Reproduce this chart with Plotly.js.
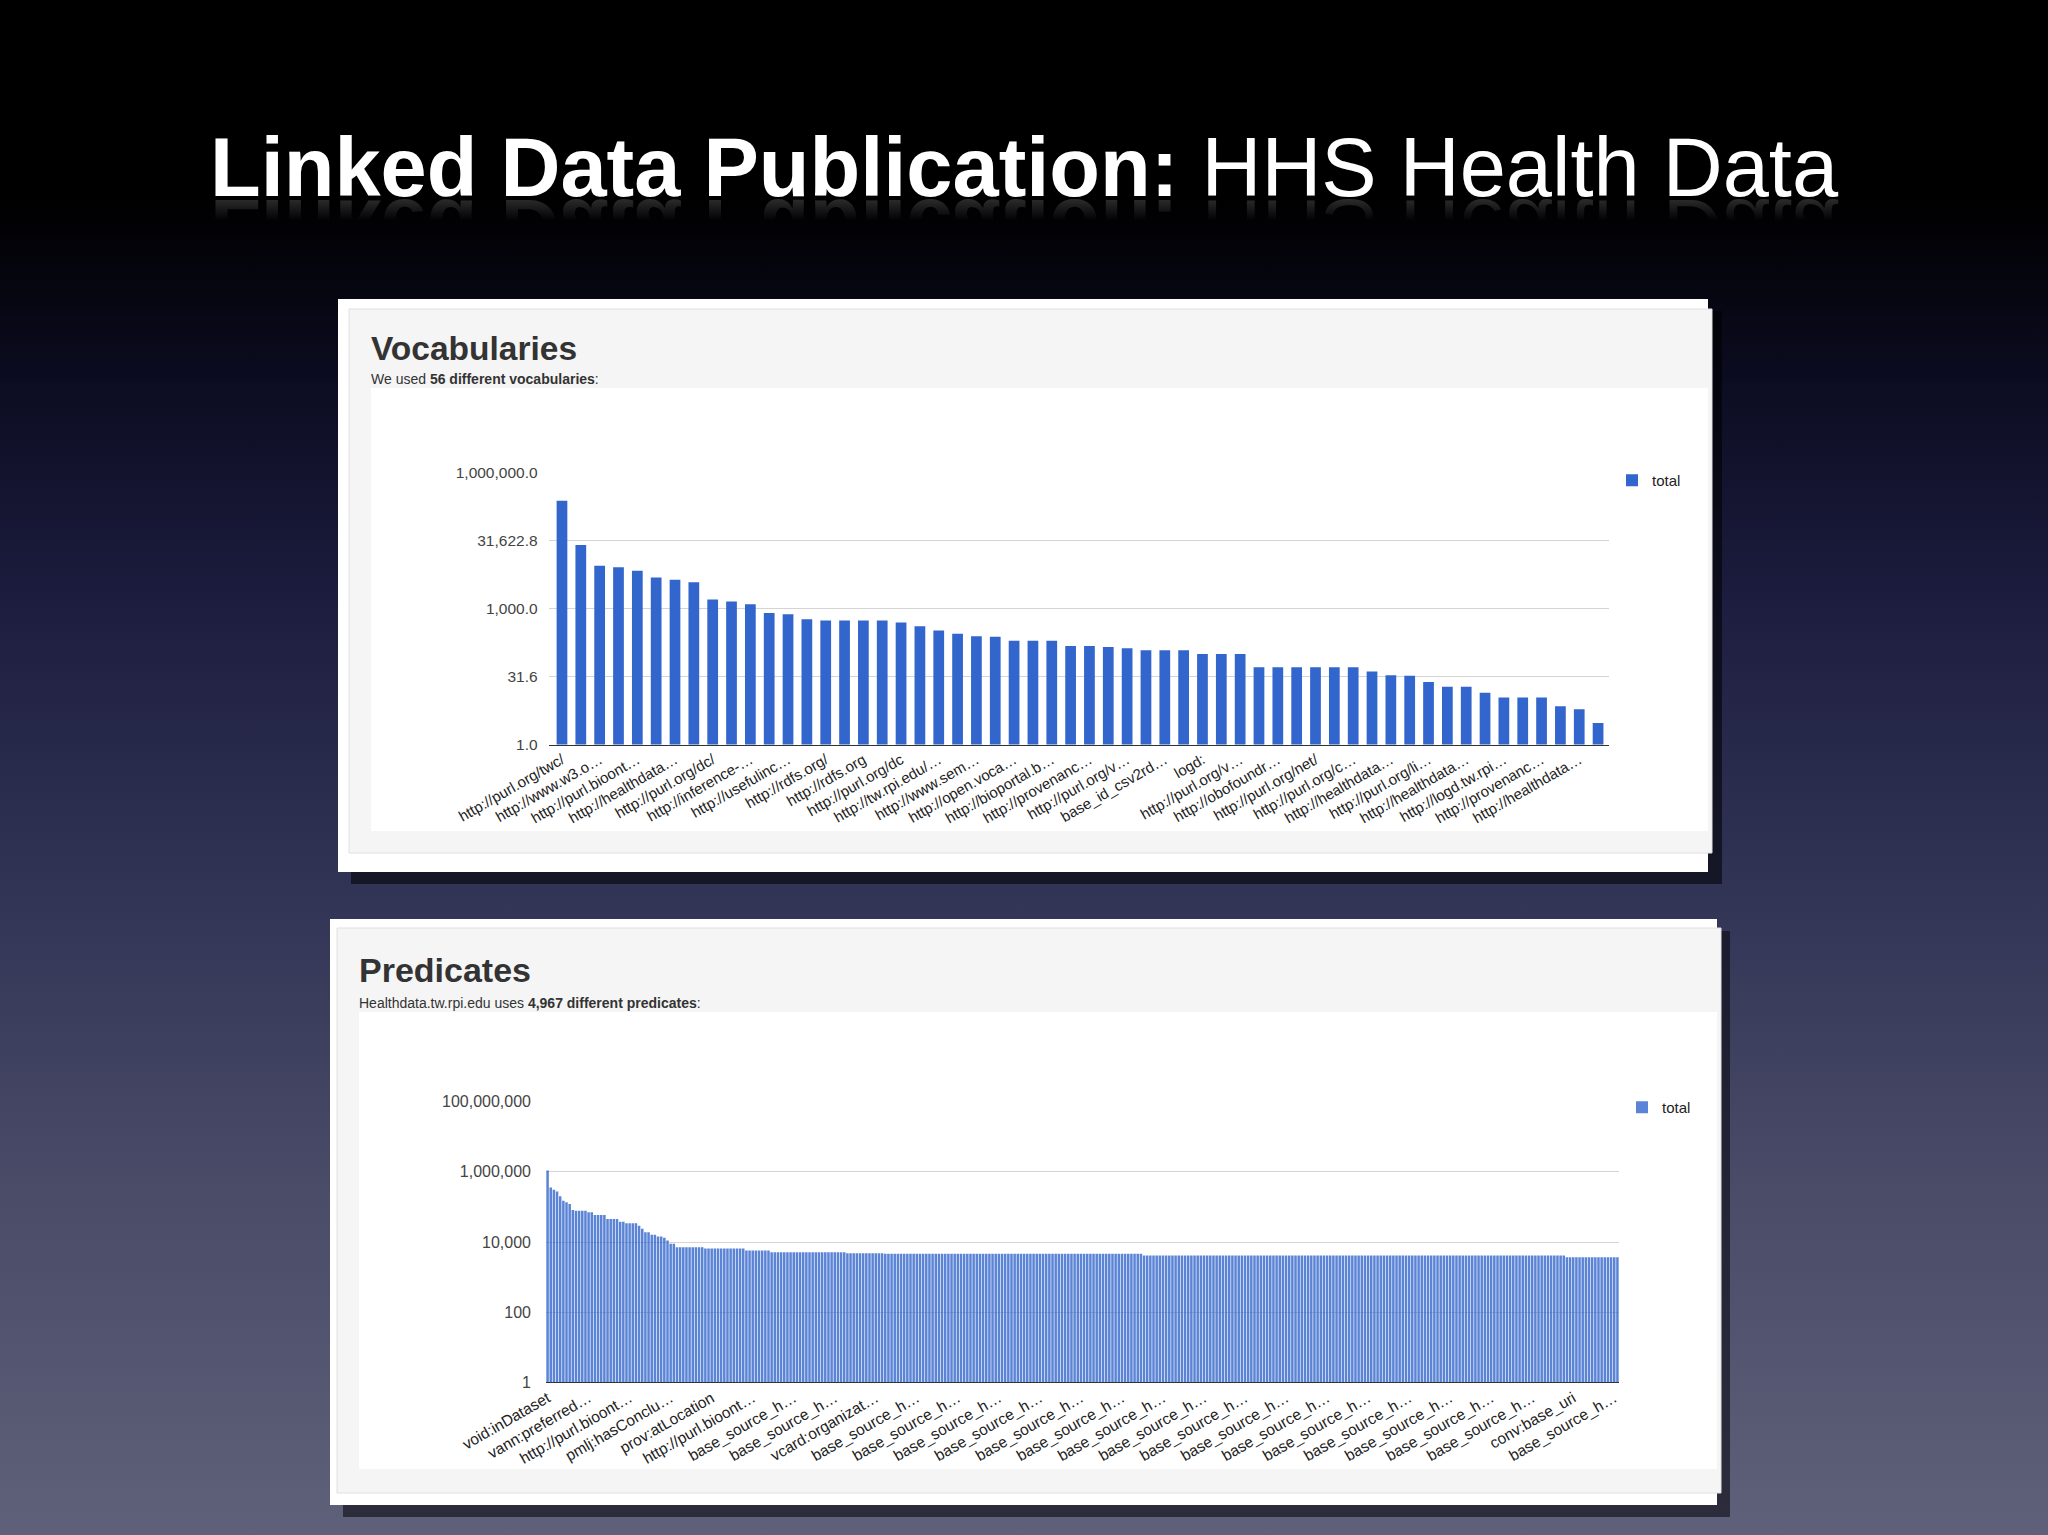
<!DOCTYPE html>
<html>
<head>
<meta charset="utf-8">
<script src="https://cdn.plot.ly/plotly-3.0.1.min.js"></script>
<style>
  html, body { margin:0; padding:0; width:2048px; height:1535px; overflow:hidden; }
  body {
    background: linear-gradient(to bottom, #000000 0%, #000000 13%, #0c0c22 25%, #1d1e40 40%, #323456 58%, #4a4c68 78%, #5f6079 100%);
    position: relative;
  }
  #chart { position:absolute; left:0; top:0; width:2048px; height:1535px; }
  #slidetitle {
    position:absolute; left:0; top:138px; width:2048px; height:60px; text-align:center; white-space:nowrap;
    font-family:"Liberation Sans", Arial, sans-serif; font-size:83px; line-height:60px; color:#ffffff;
    -webkit-box-reflect: below 0px linear-gradient(to bottom, rgba(255,255,255,0) 0%, rgba(255,255,255,0) 62%, rgba(255,255,255,0.18) 100%);
    z-index: 2;
  }
</style>
</head>
<body>
<div id="chart"></div>
<div id="slidetitle"></div>
<script>
// ---------- Data ----------
const slideTitleBold = "Linked Data Publication:";
const slideTitleRest = " HHS Health Data";

const vocabTitle = "Vocabularies";
const vocabSubtitle = "We used <b>56 different vocabularies</b>:";
// labels shown on every other bar (Google Charts skipping)
const vocabLabels = [
  "http://purl.org/twc/", "http://www.w3.o…", "http://purl.bioont…", "http://healthdata…",
  "http://purl.org/dc/", "http://inference-…", "http://usefulinc…", "http://rdfs.org/",
  "http://rdfs.org", "http://purl.org/dc", "http://tw.rpi.edu/…", "http://www.sem…",
  "http://open.voca…", "http://bioportal.b…", "http://provenanc…", "http://purl.org/v…",
  "base_id_csv2rd…", "logd:", "http://purl.org/v…", "http://obofoundr…",
  "http://purl.org/net/", "http://purl.org/c…", "http://healthdata…", "http://purl.org/li…",
  "http://healthdata…", "http://logd.tw.rpi…", "http://provenanc…", "http://healthdata…"
];
const vocabValues = [
  244000, 25500, 8870, 8300, 6880, 4900, 4350, 3860, 1600, 1440,
  1260, 809, 756, 586, 547, 547, 547, 547, 494, 410,
  329, 282, 246, 242, 197, 197, 197, 150, 150, 143,
  134, 121, 121, 121, 100, 100, 100, 51, 51, 51,
  51, 51, 51, 41, 34, 33, 24, 19, 19, 14,
  11, 11, 11, 7, 6, 3
];
const vocabTickVals = [1, 31.6227766, 1000, 31622.7766, 1000000];
const vocabTickText = ["1.0", "31.6", "1,000.0", "31,622.8", "1,000,000.0"];

const predTitle = "Predicates";
const predSubtitle = "Healthdata.tw.rpi.edu uses <b>4,967 different predicates</b>:";
// labels shown on every 13th bar
const predLabels = [
  "void:inDataset", "vann:preferred…", "http://purl.bioont…", "pmlj:hasConclu…",
  "prov:atLocation", "http://purl.bioont…", "base_source_h…", "base_source_h…",
  "vcard:organizat…", "base_source_h…", "base_source_h…", "base_source_h…",
  "base_source_h…", "base_source_h…", "base_source_h…", "base_source_h…",
  "base_source_h…", "base_source_h…", "base_source_h…", "base_source_h…",
  "base_source_h…", "base_source_h…", "base_source_h…", "base_source_h…",
  "base_source_h…", "conv:base_uri", "base_source_h…"
];
// bar values, as runs: level and number of bars at that level
const predLevels = [1100000, 360000, 310000, 277000, 200000, 150000, 135000, 122000, 82000,
  78000, 70000, 59000, 45000, 38000, 34000, 29000, 24000, 19000, 16000, 14300, 13200, 11000,
  8900, 7100, 6500, 5700, 5100, 4800, 4600, 4100, 3700];
const predCounts = [1, 1, 1, 1, 1, 1, 1, 1, 1,
  4, 2, 4, 4, 2, 4, 1, 1, 2, 2, 2, 1, 1,
  2, 9, 13, 8, 24, 12, 82, 134, 17];
const predTickVals = [1, 100, 10000, 1000000, 100000000];
const predTickText = ["1", "100", "10,000", "1,000,000", "100,000,000"];
const legendName = "total";

// ---------- Slide title (HTML text, with a CSS reflection) ----------
(function () {
  const t = document.getElementById('slidetitle');
  const b = document.createElement('b');
  b.textContent = slideTitleBold;
  t.appendChild(b);
  t.appendChild(document.createTextNode(slideTitleRest));
})();

// ---------- Build ----------
const W = 2048, H = 1535;
const fx = x => x / W;
const fy = y => 1 - y / H;
const FONT = "Liberation Sans, Arial, Helvetica, sans-serif";

const predValues = [];
predLevels.forEach((v, k) => { for (let j = 0; j < predCounts[k]; j++) predValues.push(v); });

const vocabX = vocabValues.map((_, i) => i);
const vocabTicks = vocabLabels.map((_, j) => j * 2);
const predX = predValues.map((_, i) => i);
const predTicks = predLabels.map((_, j) => j * 13);

const traces = [
  { type: 'bar', x: vocabX, y: vocabValues, width: 0.57, name: legendName,
    marker: { color: '#3366cc', line: { width: 0 } }, xaxis: 'x', yaxis: 'y', legend: 'legend', hoverinfo: 'y' },
  { type: 'bar', x: predX, y: predValues, width: 0.8, name: legendName,
    marker: { color: '#3366cc', line: { width: 0 } }, opacity: 0.8, xaxis: 'x2', yaxis: 'y2', legend: 'legend2', hoverinfo: 'y' }
];

function rect(x0, y0, x1, y1, fill, line) {
  return { type: 'rect', xref: 'paper', yref: 'paper', x0: fx(x0), x1: fx(x1), y0: fy(y1), y1: fy(y0),
    fillcolor: fill, line: line || { width: 0 }, layer: 'below' };
}

const shapes = [
  // top panel
  rect(351, 311, 1722, 884, 'rgba(0,0,0,0.55)'),
  rect(338, 299, 1708, 872, '#ffffff'),
  rect(349, 309, 1712, 853, '#f5f5f5', { color: '#e0e0e0', width: 1 }),
  rect(371, 388, 1708, 831, '#ffffff'),
  // bottom panel
  rect(343, 931, 1730, 1517, 'rgba(10,10,20,0.6)'),
  rect(330, 919, 1717, 1505, '#ffffff'),
  rect(337, 928, 1721, 1493, '#f5f5f5', { color: '#e0e0e0', width: 1 }),
  rect(359, 1012, 1717, 1469, '#ffffff')
];

const annotations = [
  { text: '<b>' + vocabTitle + '</b>', xref: 'paper', yref: 'paper', x: fx(369), y: fy(348), xanchor: 'left', yanchor: 'middle',
    showarrow: false, font: { family: FONT, size: 33.5, color: '#333333' } },
  { text: vocabSubtitle, xref: 'paper', yref: 'paper', x: fx(369), y: fy(379), xanchor: 'left', yanchor: 'middle',
    showarrow: false, font: { family: FONT, size: 14, color: '#333333' } },
  { text: '<b>' + predTitle + '</b>', xref: 'paper', yref: 'paper', x: fx(357), y: fy(970), xanchor: 'left', yanchor: 'middle',
    showarrow: false, font: { family: FONT, size: 34, color: '#333333' } },
  { text: predSubtitle, xref: 'paper', yref: 'paper', x: fx(357), y: fy(1003), xanchor: 'left', yanchor: 'middle',
    showarrow: false, font: { family: FONT, size: 14, color: '#333333' } }
];

const tickFontX = { family: FONT, size: 15, color: '#222222' };
const tickFontY = { family: FONT, size: 15.5, color: '#444444' };

const layout = {
  width: W, height: H,
  margin: { l: 0, r: 0, t: 0, b: 0, pad: 0 },
  paper_bgcolor: 'rgba(0,0,0,0)',
  plot_bgcolor: 'rgba(0,0,0,0)',
  font: { family: FONT },
  showlegend: true,
  shapes: shapes,
  annotations: annotations,
  xaxis: {
    domain: [fx(548.6), fx(1609)], anchor: 'y', range: [-0.71, 55.58],
    tickmode: 'array', tickvals: vocabTicks, ticktext: vocabLabels, tickangle: -30,
    tickfont: tickFontX, showgrid: false, zeroline: false, ticks: '',
    showline: true, linecolor: '#333333', linewidth: 1, fixedrange: true
  },
  yaxis: {
    domain: [fy(744.5), fy(473)], anchor: 'x', type: 'log', range: [0, 6],
    tickmode: 'array', tickvals: vocabTickVals, ticktext: vocabTickText,
    tickfont: tickFontY, showgrid: true, gridcolor: '#d4d4d4', gridwidth: 1,
    zeroline: false, showline: false, ticks: '', ticklabelstandoff: 10, fixedrange: true
  },
  xaxis2: {
    domain: [fx(546), fx(1619)], anchor: 'y2', range: [-0.5, 339.5],
    tickmode: 'array', tickvals: predTicks, ticktext: predLabels, tickangle: -30,
    tickfont: { family: FONT, size: 15.5, color: '#222222' }, showgrid: false, zeroline: false, ticks: '',
    showline: true, linecolor: '#333333', linewidth: 1, fixedrange: true
  },
  yaxis2: {
    domain: [fy(1382.3), fy(1101.7)], anchor: 'x2', type: 'log', range: [0, 8],
    tickmode: 'array', tickvals: predTickVals, ticktext: predTickText,
    tickfont: { family: FONT, size: 16, color: '#444444' }, showgrid: true, gridcolor: '#d4d4d4', gridwidth: 1,
    zeroline: false, showline: false, ticks: '', ticklabelstandoff: 14, fixedrange: true
  },
  legend: {
    x: fx(1612), y: fy(464), xanchor: 'left', yanchor: 'top', bgcolor: 'rgba(0,0,0,0)',
    font: { family: FONT, size: 15, color: '#222222' }, itemwidth: 30
  },
  legend2: {
    x: fx(1622), y: fy(1091), xanchor: 'left', yanchor: 'top', bgcolor: 'rgba(0,0,0,0)',
    font: { family: FONT, size: 15, color: '#222222' }, itemwidth: 30
  }
};

Plotly.newPlot('chart', traces, layout, { staticPlot: true, displayModeBar: false });
</script>
</body>
</html>
